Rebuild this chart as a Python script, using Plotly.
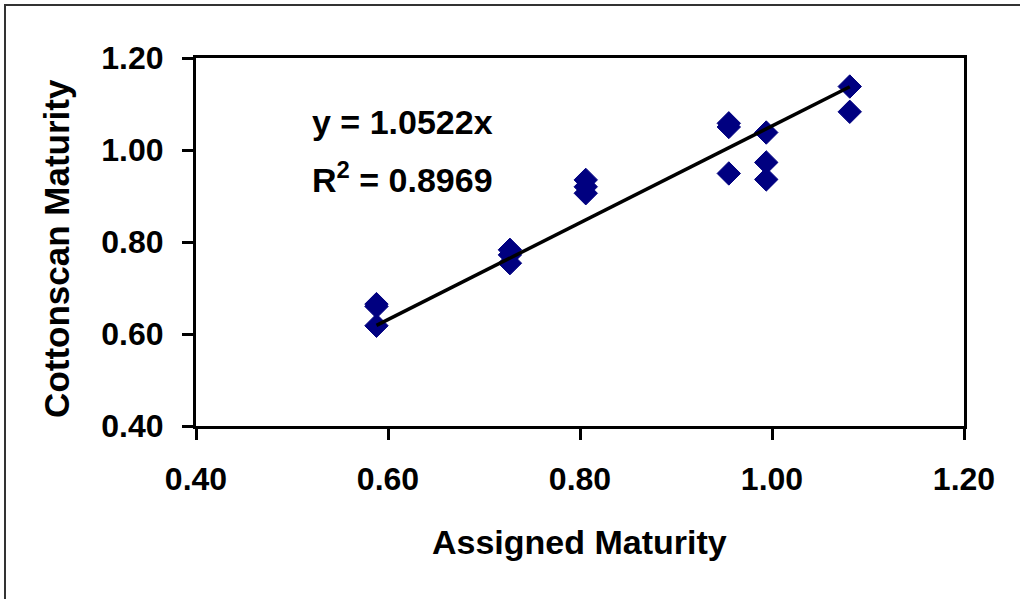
import plotly.graph_objects as go

# Data
assigned = [0.588, 0.588, 0.588, 0.727, 0.727, 0.727, 0.806, 0.806, 0.806,
            0.955, 0.955, 0.955, 0.994, 0.994, 0.994, 1.081, 1.081]
cottonscan = [0.665, 0.660, 0.618, 0.783, 0.772, 0.754, 0.935, 0.920, 0.906,
              1.058, 1.050, 0.949, 1.038, 0.973, 0.936, 1.138, 1.083]
slope = 1.0522
r_squared = 0.8969
x_ticks = [0.40, 0.60, 0.80, 1.00, 1.20]
y_ticks = [0.40, 0.60, 0.80, 1.00, 1.20]

FONT = "Liberation Sans, Arial, sans-serif"

trend_x = [min(assigned), max(assigned)]
trend_y = [slope * v for v in trend_x]

fig = go.Figure()
fig.add_trace(go.Scatter(
    x=assigned, y=cottonscan, mode="markers",
    marker=dict(symbol="diamond", size=18, color="#000080",
                line=dict(color="#000080", width=1)),
    showlegend=False, hoverinfo="x+y"))
fig.add_trace(go.Scatter(
    x=trend_x, y=trend_y, mode="lines",
    line=dict(color="black", width=3.5),
    showlegend=False, hoverinfo="skip"))

axis_common = dict(
    showgrid=False, zeroline=False, showline=True, linecolor="black",
    linewidth=3, mirror=True, ticks="outside", ticklen=11, tickwidth=3,
    tickcolor="black", tickformat=".2f",
    tickfont=dict(family=FONT, size=32, color="black", weight="bold"),
)
fig.update_xaxes(range=[0.4, 1.2], tickvals=x_ticks, ticklabelstandoff=12, **axis_common)
fig.update_yaxes(range=[0.4, 1.2], tickvals=y_ticks, ticklabelstandoff=12, **axis_common)

fig.add_annotation(text="Assigned Maturity", xref="paper", yref="paper",
                   x=0.499, y=-0.315, xanchor="center", yanchor="middle",
                   showarrow=False,
                   font=dict(family=FONT, size=34, color="black", weight="bold"))
fig.add_annotation(text="Cottonscan Maturity", xref="paper", yref="paper",
                   x=-0.181, y=0.484, xanchor="center", yanchor="middle",
                   textangle=-90, showarrow=False,
                   font=dict(family=FONT, size=35, color="black", weight="bold"))
fig.add_annotation(text=f"y = {slope:.4f}x", xref="x", yref="y",
                   x=0.519, y=1.061, xanchor="left", yanchor="middle",
                   showarrow=False,
                   font=dict(family=FONT, size=34, color="black", weight="bold"))
fig.add_annotation(text=f"R<sup>2</sup> = {r_squared:.4f}", xref="x", yref="y",
                   x=0.519, y=0.941, xanchor="left", yanchor="middle",
                   showarrow=False,
                   font=dict(family=FONT, size=34, color="black", weight="bold"))

# outer chart-area border (left and top visible)
fig.add_shape(type="rect", xref="paper", yref="paper",
              x0=-0.2487, x1=1.2, y0=-0.6, y1=1.144,
              line=dict(color="#333333", width=2), layer="below")

fig.update_layout(
    width=1020, height=599,
    margin=dict(l=196, r=56, t=58, b=173),
    paper_bgcolor="white", plot_bgcolor="white",
)

fig.write_html("out.html")
